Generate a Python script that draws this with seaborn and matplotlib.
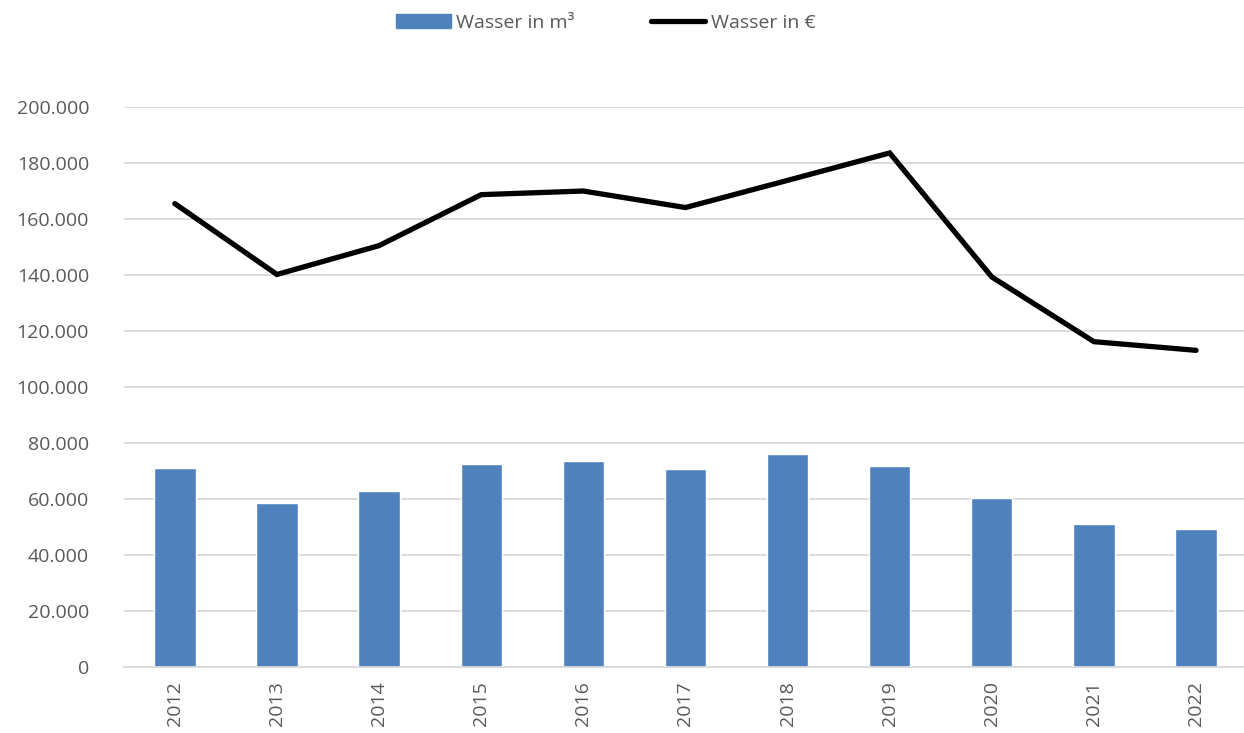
import numpy as np
import pandas as pd
import matplotlib
matplotlib.use("Agg")
import matplotlib.pyplot as plt
from matplotlib.ticker import FuncFormatter
from matplotlib.patches import Patch
from matplotlib.lines import Line2D
import seaborn as sns

# data
years = ["2012", "2013", "2014", "2015", "2016", "2017", "2018", "2019", "2020", "2021", "2022"]
wasser_m3 = [71000, 58500, 63000, 72500, 73600, 70700, 76000, 71900, 60500, 51100, 49200]
wasser_eur = [165500, 140200, 150500, 168700, 170000, 164100, 173800, 183600, 139300, 116200, 113100]

df = pd.DataFrame({"jahr": years, "m3": wasser_m3, "eur": wasser_eur})

sns.set_theme(style="white")
plt.rcParams["font.family"] = ["Open Sans", "DejaVu Sans"]
text_col = "#595959"
bar_col = "#4F81BD"

fig = plt.figure(figsize=(12.44, 7.33), dpi=100)
# plot area runs slightly past the right edge, like the original
ax = fig.add_axes([0.0995, 0.090, 0.903, 0.764])

sns.barplot(data=df, x="jahr", y="m3", color=bar_col, width=0.405, saturation=1, ax=ax)
sns.pointplot(data=df, x="jahr", y="eur", color="black", markers="", linestyles="-", ax=ax)
for ln in ax.lines:
    ln.set_linewidth(3.8)
    ln.set_solid_capstyle("round")
    ln.set_solid_joinstyle("miter")

ax.set_ylim(0, 200000)
ax.set_xlim(-0.5, len(years) - 0.5)
ax.set_yticks(np.arange(0, 200001, 20000))
ax.yaxis.set_major_formatter(FuncFormatter(lambda v, p: f"{v:,.0f}".replace(",", ".")))
ax.grid(axis="y", color="#D9D9D9", linewidth=1.3)
ax.set_axisbelow(True)
for s in ["top", "right", "left"]:
    ax.spines[s].set_visible(False)
ax.spines["bottom"].set_color("#D9D9D9")
ax.spines["bottom"].set_linewidth(1.3)
ax.set_xlabel("")
ax.set_ylabel("")
ax.tick_params(axis="x", labelrotation=90, labelsize=14, colors=text_col, length=0, pad=10)
ax.tick_params(axis="y", labelsize=14, colors=text_col, length=0, pad=25)

handles = [Patch(facecolor=bar_col, edgecolor=bar_col),
           Line2D([0], [0], color="black", lw=3.8, solid_capstyle="round")]
leg = fig.legend(handles, ["Wasser in m³", "Wasser in €"], loc="upper center",
                 bbox_to_anchor=(0.487, 1.005), ncol=2, frameon=False, fontsize=14,
                 handlelength=2.8, handletextpad=0.3, columnspacing=3.9)
for t in leg.get_texts():
    t.set_color(text_col)

fig.savefig("out.png", dpi=100)
